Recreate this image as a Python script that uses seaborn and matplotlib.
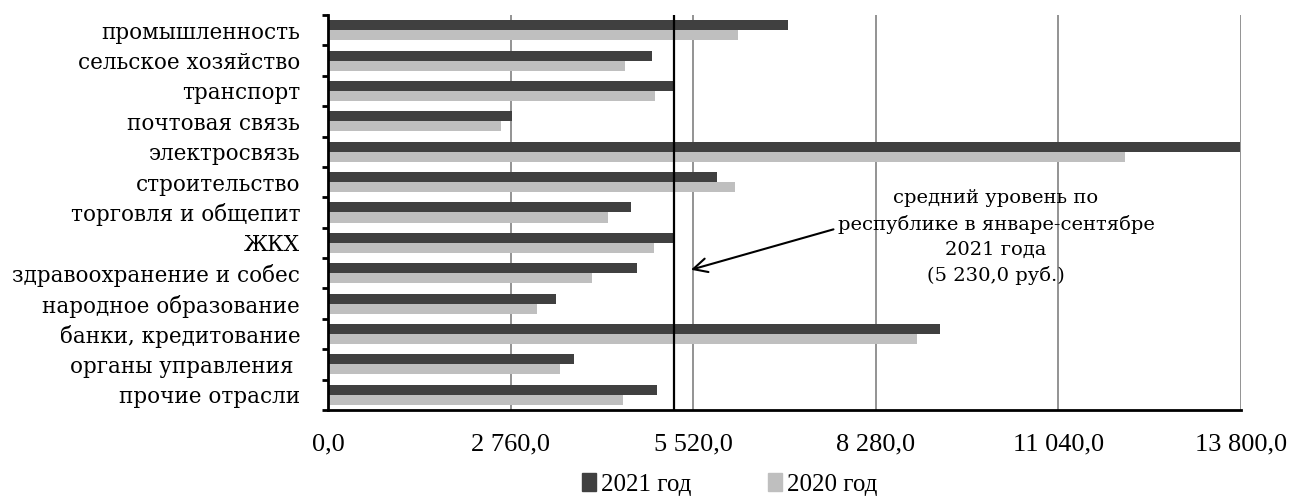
import matplotlib
matplotlib.use("Agg")
import matplotlib.pyplot as plt
import matplotlib.patches as mpatches
from matplotlib.ticker import FuncFormatter, FixedLocator
import seaborn as sns
import pandas as pd

# ── данные ──────────────────────────────────────────────
categories = [
    "промышленность", "сельское хозяйство", "транспорт", "почтовая связь",
    "электросвязь", "строительство", "торговля и общепит", "ЖКХ",
    "здравоохранение и собес", "народное образование", "банки, кредитование",
    "органы управления ", "прочие отрасли",
]
values_2021 = [6960, 4893, 5240, 2775, 13790, 5879, 4574, 5239, 4670, 3445, 9245, 3715, 4980]
values_2020 = [6195, 4487, 4950, 2610, 12050, 6155, 4227, 4927, 3995, 3156, 8907, 3503, 4458]
series = ["2021 год", "2020 год"]
average_level = 5230.0
x_ticks = [0, 2760, 5520, 8280, 11040, 13800]

df = pd.DataFrame({
    "отрасль": categories * 2,
    "значение": values_2021 + values_2020,
    "год": [series[0]] * len(categories) + [series[1]] * len(categories),
})

PALETTE = {series[0]: "#404040", series[1]: "#bfbfbf"}

sns.set_theme(style="white")
plt.rcParams["font.family"] = ["DejaVu Serif"]
plt.rcParams["text.color"] = "black"
plt.rcParams["xtick.color"] = "black"
plt.rcParams["ytick.color"] = "black"
plt.rcParams["xtick.labelcolor"] = "black"
plt.rcParams["ytick.labelcolor"] = "black"

fig = plt.figure(figsize=(13.03, 4.96), dpi=100)
ax = fig.add_axes([0.2517, 0.1734, 0.7007, 0.7964])

sns.barplot(
    data=df, y="отрасль", x="значение", hue="год", hue_order=series,
    palette=PALETTE, orient="h", width=0.66, dodge=True, ax=ax,
    legend=False, saturation=1, linewidth=0,
)

ax.set_xlim(0, 13800)
ax.set_ylim(len(categories) - 0.5, -0.5)
ax.set_xlabel("")
ax.set_ylabel("")

# вертикальная сетка
ax.set_xticks(x_ticks)
ax.xaxis.set_major_formatter(
    FuncFormatter(lambda v, _: f"{v:,.1f}".replace(",", " ").replace(".", ","))
)
for xt in x_ticks[1:]:
    ax.axvline(xt, color="#8a8a8a", lw=1.3, zorder=0)

# средний уровень
ax.axvline(average_level, color="black", lw=1.6, zorder=3)

# оси
for s in ["top", "right"]:
    ax.spines[s].set_visible(False)
for s in ["left", "bottom"]:
    ax.spines[s].set_color("black")
    ax.spines[s].set_linewidth(2)

ax.tick_params(axis="x", which="major", direction="out", length=5, width=1.5,
               color="black", pad=12, labelsize=19)
for lbl in ax.get_xticklabels():
    lbl.set_fontfamily(["Liberation Serif"])

ax.set_yticks(range(len(categories)))
ax.set_yticklabels(categories)
ax.yaxis.set_minor_locator(FixedLocator([i - 0.5 for i in range(len(categories) + 1)]))
ax.tick_params(axis="y", which="major", length=0, pad=20, labelsize=15.5)
ax.tick_params(axis="y", which="minor", direction="out", length=4, width=2, color="black", left=True)

# подпись со стрелкой
ax.text(10098, 6.81,
        "средний уровень по\nреспублике в январе-сентябре\n2021 года\n(5 230,0 руб.)",
        ha="center", va="center", fontsize=14, linespacing=1.5, zorder=5)
ax.annotate("", xy=(5446, 7.91), xytext=(7681, 6.53),
            arrowprops=dict(arrowstyle="->", lw=1.5, color="black", mutation_scale=25),
            zorder=5)

# легенда
handles = [mpatches.Patch(color=PALETTE[s], label=s) for s in series]
fig.legend(handles=handles, loc="center", bbox_to_anchor=(0.56, 0.024), ncol=2,
           frameon=False, handlelength=0.55, handleheight=0.75, handletextpad=0.2,
           columnspacing=3.1, prop={"family": "Liberation Serif", "size": 18})

fig.savefig("out.png", dpi=100)
